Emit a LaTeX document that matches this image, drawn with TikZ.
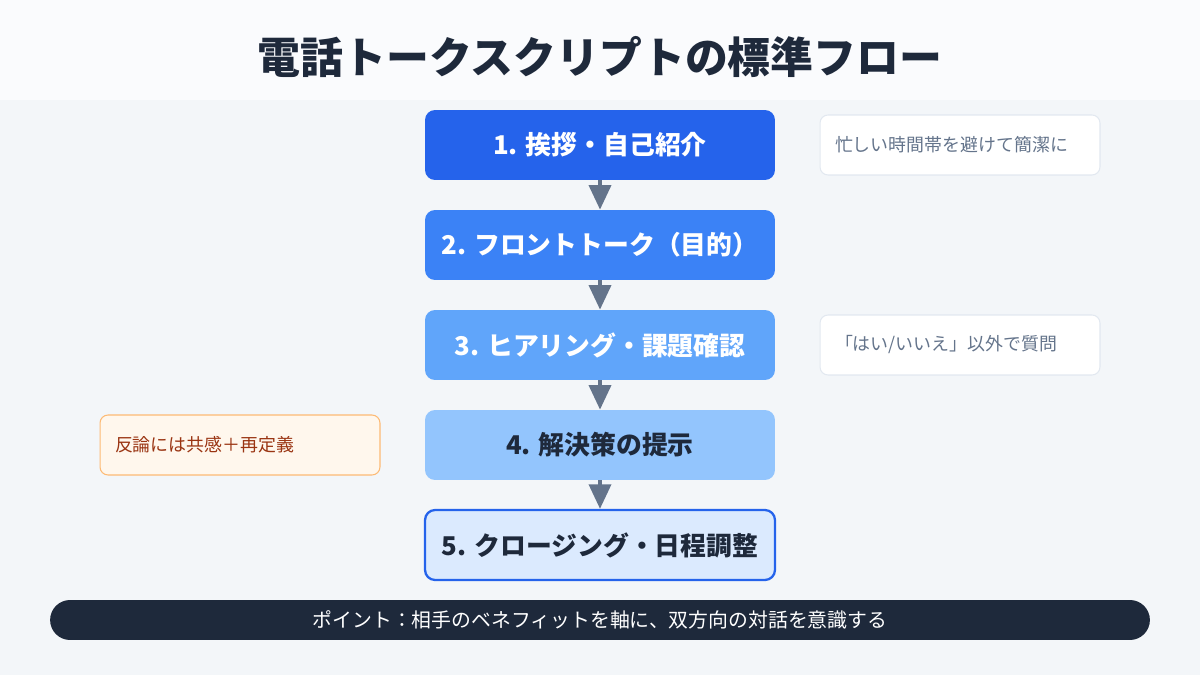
\documentclass[tikz,border=0pt]{standalone}
\usepackage{fontspec}
\setmainfont{Noto Sans CJK JP}
\usepackage{xcolor}
\usetikzlibrary{arrows.meta}

\definecolor{ink}{HTML}{1E293B}
\definecolor{slate}{HTML}{64748B}
\definecolor{edge}{HTML}{E2E8F0}
\definecolor{blueA}{HTML}{2563EB}
\definecolor{blueB}{HTML}{3B82F6}
\definecolor{blueC}{HTML}{60A5FA}
\definecolor{blueD}{HTML}{93C5FD}
\definecolor{blueE}{HTML}{DBEAFE}
\definecolor{warmfill}{HTML}{FFF7ED}
\definecolor{warmline}{HTML}{FDBA74}
\definecolor{warmtext}{HTML}{9A3412}
\definecolor{bgtop}{HTML}{FAFBFD}
\definecolor{bglow}{HTML}{F3F6F9}

\tikzset{
  stepbox/.style={rounded corners=0.2cm, minimum width=7cm, minimum height=1.4cm,
    inner sep=0pt, font=\fontsize{14.7pt}{17pt}\selectfont\bfseries},
  notebox/.style={draw=edge, fill=white, rounded corners=0.16cm, line width=0.6pt,
    minimum width=5.6cm, minimum height=1.2cm, text width=5cm, inner xsep=0.3cm,
    align=left, text=slate, font=\fontsize{10.2pt}{12pt}\selectfont},
  flow/.style={slate, line width=2.2pt, -{Triangle[width=12.5pt,length=14pt]}}
}

\begin{document}
\begin{tikzpicture}[x=0.02cm, y=-0.02cm]
  % background
  \useasboundingbox (0,0) rectangle (1200,675);
  \fill[bglow] (0,0) rectangle (1200,675);
  \fill[bgtop] (0,0) rectangle (1200,100);

  % title
  \node[text=ink, font=\fontsize{24.4pt}{29pt}\selectfont\bfseries] (title) at (600,57) {電話トークスクリプトの標準フロー};

  % steps
  \node[stepbox, fill=blueA, text=white] (s1) at (600,145) {1. 挨拶・自己紹介};
  \node[stepbox, fill=blueB, text=white] (s2) at (600,245) {2. フロントトーク（目的）};
  \node[stepbox, fill=blueC, text=white] (s3) at (600,345) {3. ヒアリング・課題確認};
  \node[stepbox, fill=blueD, text=ink] (s4) at (600,445) {4. 解決策の提示};
  \node[stepbox, fill=blueE, draw=blueA, line width=1.3pt, text=ink] (s5) at (600,545) {5. クロージング・日程調整};

  \draw[flow] (s1) -- (s2);
  \draw[flow] (s2) -- (s3);
  \draw[flow] (s3) -- (s4);
  \draw[flow] (s4) -- (s5);

  % notes
  \node[notebox] (n1) at (960,145) {忙しい時間帯を避けて簡潔に};
  \node[notebox] (n3) at (960,345) {「はい/いいえ」以外で質問};
  \node[notebox, fill=warmfill, draw=warmline, text=warmtext] (n4) at (240,445) {反論には共感＋再定義};

  % bottom bar
  \node[fill=ink, text=white, rounded corners=0.4cm, minimum width=22cm, minimum height=0.8cm,
    font=\fontsize{11.3pt}{13pt}\selectfont] (tip) at (600,620) {ポイント：相手のベネフィットを軸に、双方向の対話を意識する};
\end{tikzpicture}
\end{document}
